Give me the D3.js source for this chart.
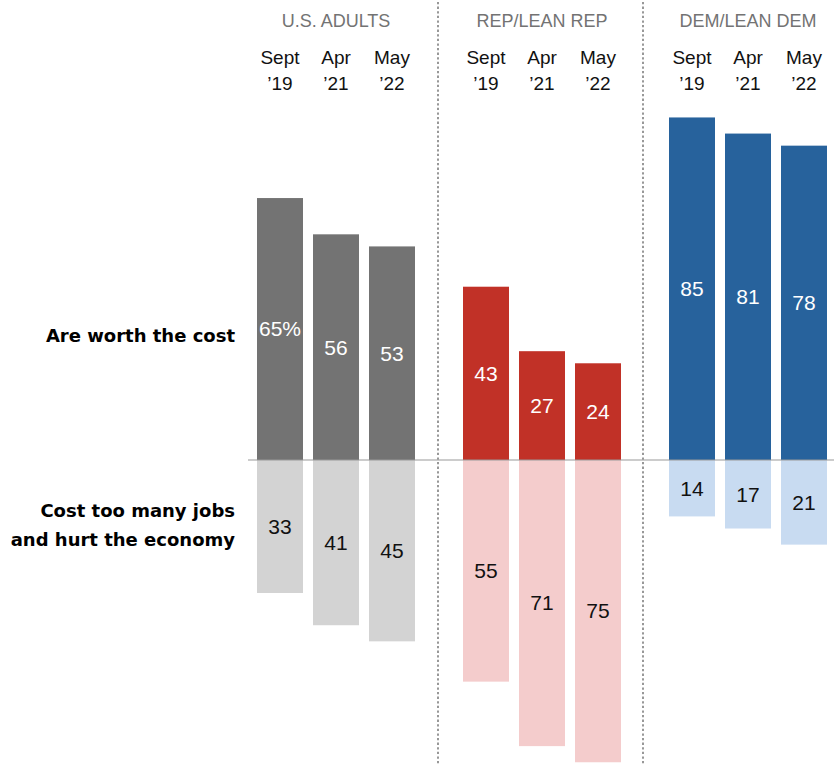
<!DOCTYPE html>
<html><head><meta charset="utf-8">
<script src="https://cdn.jsdelivr.net/npm/d3@7"></script>
<style>body{margin:0;background:#fff}svg{display:block}</style>
</head><body>
<svg id="c" width="834" height="764"></svg>
<script>
const groups = ["U.S. ADULTS", "REP/LEAN REP", "DEM/LEAN DEM"];
const periods = [["Sept", "\u201919"], ["Apr", "\u201921"], ["May", "\u201922"]];
const worthCost = [[65, 56, 53], [43, 27, 24], [85, 81, 78]];
const costJobs = [[33, 41, 45], [55, 71, 75], [14, 17, 21]];
const rowLabels = [["Are worth the cost"], ["Cost too many jobs", "and hurt the economy"]];
const darkColors = ["#737373", "#c13127", "#27629c"];
const lightColors = ["#d3d3d3", "#f4cccc", "#c8dbf1"];

const svg = d3.select("#c");
const font = "'Liberation Sans', Arial, sans-serif";
const boldFont = "'DejaVu Sans', 'Liberation Sans', sans-serif";
const baseY = 460;
const y = d3.scaleLinear().domain([0, 100]).range([0, 403]);
const groupStart = [257, 463, 669];
const bx = d3.scaleBand().domain(d3.range(3)).range([0, 158]).paddingInner(0.1786).paddingOuter(0);

// dividers
[438, 643].forEach(x => svg.append("line").attr("x1", x).attr("x2", x).attr("y1", 2).attr("y2", 764)
  .attr("stroke", "#777").attr("stroke-width", 1.5).attr("stroke-dasharray", "2.3,2.3"));

groups.forEach((g, gi) => {
  const x0 = groupStart[gi];
  const cx = x0 + 158 / 2;
  svg.append("text").attr("x", cx).attr("y", 27).attr("text-anchor", "middle")
    .attr("font-family", font).attr("font-size", 18).attr("fill", "#737373").text(g);
  periods.forEach((p, pi) => {
    const bxc = x0 + bx(pi) + bx.bandwidth() / 2;
    p.forEach((t, li) => svg.append("text").attr("x", bxc).attr("y", 64 + li * 26).attr("text-anchor", "middle")
      .attr("font-family", font).attr("font-size", 19).attr("fill", "#111").text(t));
    const v1 = worthCost[gi][pi], v2 = costJobs[gi][pi];
    const h1 = y(v1), h2 = y(v2);
    svg.append("rect").attr("x", x0 + bx(pi)).attr("y", baseY - h1).attr("width", bx.bandwidth()).attr("height", h1)
      .attr("fill", darkColors[gi]);
    svg.append("rect").attr("x", x0 + bx(pi)).attr("y", baseY).attr("width", bx.bandwidth()).attr("height", h2)
      .attr("fill", lightColors[gi]);
    svg.append("text").attr("x", bxc).attr("y", baseY - h1 / 2).attr("dy", "0.35em").attr("text-anchor", "middle")
      .attr("font-family", font).attr("font-size", 21).attr("fill", "#fff")
      .text(gi === 0 && pi === 0 ? v1 + "%" : v1);
    svg.append("text").attr("x", bxc).attr("y", baseY + h2 / 2).attr("dy", "0.35em").attr("text-anchor", "middle")
      .attr("font-family", font).attr("font-size", 21).attr("fill", "#111").text(v2);
  });
});

svg.append("line").attr("x1", 248).attr("x2", 834).attr("y1", baseY).attr("y2", baseY)
  .attr("stroke", "#999").attr("stroke-width", 1);

const rowY = [[336], [511, 540]];
rowLabels.forEach((lines, ri) => lines.forEach((t, li) =>
  svg.append("text").attr("x", 235).attr("y", rowY[ri][li]).attr("dy", "0.35em").attr("text-anchor", "end")
    .attr("font-family", boldFont).attr("font-weight", "bold").attr("font-size", 18).attr("fill", "#000").text(t)));
</script>
</body></html>
